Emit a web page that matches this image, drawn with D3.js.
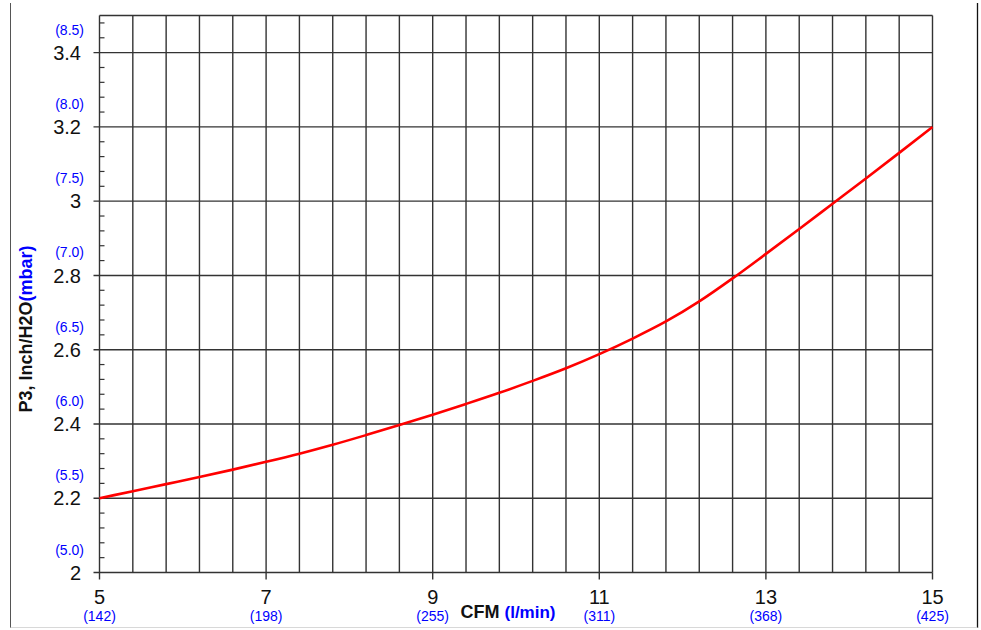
<!DOCTYPE html>
<html>
<head>
<meta charset="utf-8">
<script src="https://cdn.jsdelivr.net/npm/d3@7"></script>
<style>
  html, body { margin: 0; padding: 0; background: #fff; }
  svg { display: block; font-family: "Liberation Sans", Arial, sans-serif; }
</style>
</head>
<body>
<svg id="chart" width="981" height="630"></svg>
<script>
// Air flow (CFM) against pressure P3 (inch H2O)
const cfm = [5.0, 5.4, 5.8, 6.2, 6.6, 7.0, 7.4, 7.8, 8.2, 8.6, 9.0, 9.4, 9.8,
             10.2, 10.6, 11.0, 11.4, 11.8, 12.2, 12.6, 13.0, 13.4, 13.8, 14.2, 14.6, 15.0];
const p3 = [2.200, 2.219, 2.238, 2.257, 2.277, 2.298, 2.320, 2.344, 2.370, 2.397, 2.425, 2.454, 2.484,
            2.516, 2.550, 2.588, 2.630, 2.676, 2.730, 2.792, 2.858, 2.925, 2.993, 3.061, 3.130, 3.200];

// Axis ticks and secondary-unit labels
const xTicks = [5, 7, 9, 11, 13, 15];
const xTickLabels = ["5", "7", "9", "11", "13", "15"];
const xLpmLabels = ["(142)", "(198)", "(255)", "(311)", "(368)", "(425)"];
const yTicks = [2.0, 2.2, 2.4, 2.6, 2.8, 3.0, 3.2, 3.4];
const yTickLabels = ["2", "2.2", "2.4", "2.6", "2.8", "3", "3.2", "3.4"];
const yMbarLabels = ["(5.0)", "(5.5)", "(6.0)", "(6.5)", "(7.0)", "(7.5)", "(8.0)", "(8.5)"];

const svg = d3.select("#chart");
const x = d3.scaleLinear().domain([5, 15]).range([99.5, 932.5]);
const y = d3.scaleLinear().domain([2, 3.5]).range([572.5, 15.5]);

const gridColor = "#333";
const blue = "#0000ff";

// outer frame
svg.append("line").attr("x1", 10.5).attr("x2", 10.5).attr("y1", 3).attr("y2", 628)
  .attr("stroke", "#555").attr("stroke-width", 1);
svg.append("line").attr("x1", 977.5).attr("x2", 977.5).attr("y1", 3).attr("y2", 628)
  .attr("stroke", "#111").attr("stroke-width", 1.3);
svg.append("line").attr("x1", 10.5).attr("x2", 977.5).attr("y1", 627.5).attr("y2", 627.5)
  .attr("stroke", "#d8d8d8").attr("stroke-width", 1);

const g = svg.append("g");

// vertical grid every 0.4 CFM
const xGrid = d3.range(0, 26).map(i => 5 + i * 0.4);
g.selectAll("line.vg").data(xGrid).join("line")
  .attr("class", "vg")
  .attr("x1", d => x(d)).attr("x2", d => x(d))
  .attr("y1", y(3.5)).attr("y2", y(2))
  .attr("stroke", gridColor).attr("stroke-width", 1.4);

// horizontal grid at each major pressure tick, top border
g.selectAll("line.hg").data(yTicks).join("line")
  .attr("class", "hg")
  .attr("x1", x(5) - 6).attr("x2", x(15))
  .attr("y1", d => y(d)).attr("y2", d => y(d))
  .attr("stroke", gridColor).attr("stroke-width", 1.4);
g.append("line").attr("x1", x(5)).attr("x2", x(15))
  .attr("y1", y(3.5)).attr("y2", y(3.5))
  .attr("stroke", gridColor).attr("stroke-width", 1.4);

// minor pressure ticks every 0.04, inside the axis
const yMinor = d3.range(0, 38).map(i => 2 + i * 0.04)
  .filter(v => Math.abs(v * 5 - Math.round(v * 5)) > 1e-6);
g.selectAll("line.mt").data(yMinor).join("line")
  .attr("class", "mt")
  .attr("x1", x(5)).attr("x2", x(5) + 5)
  .attr("y1", d => y(d)).attr("y2", d => y(d))
  .attr("stroke", gridColor).attr("stroke-width", 1.2);

// major CFM ticks below the axis
g.selectAll("line.xt").data(xTicks).join("line")
  .attr("class", "xt")
  .attr("x1", d => x(d)).attr("x2", d => x(d))
  .attr("y1", y(2)).attr("y2", y(2) + 7)
  .attr("stroke", gridColor).attr("stroke-width", 1.4);

// y tick labels
g.selectAll("text.yl").data(yTicks).join("text")
  .attr("class", "yl")
  .attr("x", 81).attr("y", d => y(d)).attr("dy", "0.36em")
  .attr("text-anchor", "end").attr("font-size", 20).attr("fill", "#111")
  .text((d, i) => yTickLabels[i]);
g.selectAll("text.ym").data(yTicks).join("text")
  .attr("class", "ym")
  .attr("x", 84).attr("y", d => y(d) - 23).attr("dy", "0.36em")
  .attr("text-anchor", "end").attr("font-size", 14).attr("fill", blue)
  .text((d, i) => yMbarLabels[i]);

// x tick labels
g.selectAll("text.xl").data(xTicks).join("text")
  .attr("class", "xl")
  .attr("x", d => x(d)).attr("y", 603.5)
  .attr("text-anchor", "middle").attr("font-size", 20).attr("fill", "#111")
  .text((d, i) => xTickLabels[i]);
g.selectAll("text.xm").data(xTicks).join("text")
  .attr("class", "xm")
  .attr("x", d => x(d)).attr("y", 620.5)
  .attr("text-anchor", "middle").attr("font-size", 14).attr("fill", blue)
  .text((d, i) => xLpmLabels[i]);

// axis titles
const xt = svg.append("text").attr("x", 508).attr("y", 617.5)
  .attr("text-anchor", "middle").attr("font-weight", "bold");
xt.append("tspan").attr("font-size", 18).attr("fill", "#111").text("CFM ");
xt.append("tspan").attr("font-size", 17).attr("fill", blue).text("(l/min)");

const yt = svg.append("text")
  .attr("transform", "translate(32,329) rotate(-90)")
  .attr("text-anchor", "middle").attr("font-weight", "bold");
yt.append("tspan").attr("font-size", 18).attr("fill", "#111").text("P3, Inch/H2O");
yt.append("tspan").attr("font-size", 18).attr("fill", blue).text("(mbar)");

// pressure curve
const line = d3.line()
  .x((d, i) => x(cfm[i]))
  .y(d => y(d))
  .curve(d3.curveMonotoneX);
svg.append("path").datum(p3)
  .attr("d", line)
  .attr("fill", "none").attr("stroke", "#ff0000").attr("stroke-width", 2.6);
</script>
</body>
</html>
